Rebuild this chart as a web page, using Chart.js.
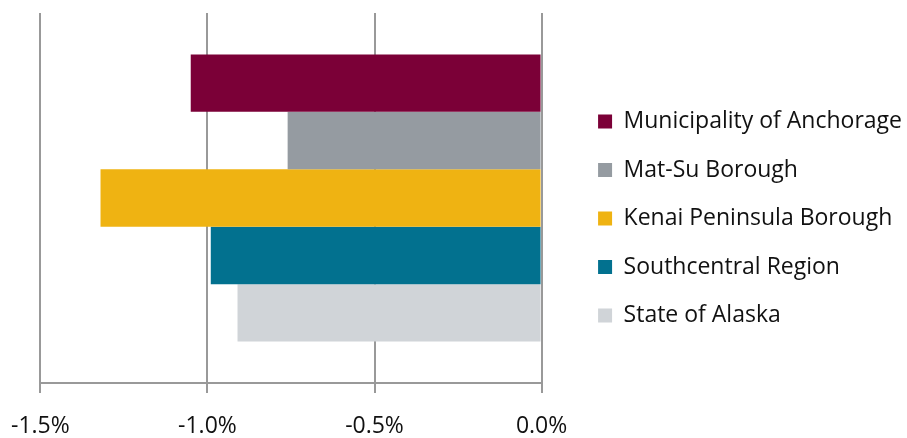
<!DOCTYPE html>
<html>
<head>
<meta charset="utf-8">
<script src="https://cdn.jsdelivr.net/npm/chart.js@4/dist/chart.umd.min.js"></script>
<style>
  html, body { margin: 0; padding: 0; background: #fff; }
  #wrap { width: 907px; height: 438px; }
</style>
</head>
<body>
<div id="wrap"><canvas id="chart"></canvas></div>
<script>
const categories = ['Change']
const regions = ['Municipality of Anchorage', 'Mat-Su Borough', 'Kenai Peninsula Borough', 'Southcentral Region', 'State of Alaska']
const changes = [-1.05, -0.76, -1.32, -0.99, -0.91]
const colors = ['#7b0037', '#959ba1', '#efb312', '#02718f', '#d0d4d8']
const tickValues = [-1.5, -1.0, -0.5, 0.0]

const gridColor = '#999999'
const tickFont = { family: '"Open Sans", sans-serif', size: 23 }
const legendFont = { family: '"Open Sans", sans-serif', size: 23 }

// leave a gap between the plot and the legend
const legendGap = {
  id: 'legendGap',
  beforeLayout: chart => {
    const legend = chart.legend
    if (!legend || legend._gapWrapped) return
    const fit = legend.fit
    legend.fit = function () {
      fit.call(this)
      this.width += 26
    }
    legend._gapWrapped = true
  },
  afterLayout: chart => {
    const legend = chart.legend
    legend.left += 31
    legend.top -= 7
    legend.bottom -= 7
  }
}

const ctx = document.getElementById('chart').getContext('2d')
new Chart(ctx, {
  type: 'bar',
  data: {
    labels: categories,
    datasets: regions.map((name, i) => ({
      label: name,
      data: [changes[i]],
      backgroundColor: colors[i],
      borderWidth: 0,
      barPercentage: 1,
      categoryPercentage: 0.776
    }))
  },
  plugins: [legendGap],
  options: {
    indexAxis: 'y',
    responsive: true,
    maintainAspectRatio: false,
    animation: false,
    layout: { padding: { top: 13, left: 0, right: 0, bottom: 0 } },
    plugins: {
      tooltip: { enabled: false },
      legend: {
        position: 'right',
        labels: {
          color: '#111',
          font: legendFont,
          boxWidth: 14,
          boxHeight: 14,
          padding: 25.5
        }
      }
    },
    scales: {
      x: {
        min: -1.5,
        max: 0,
        afterBuildTicks: scale => { scale.ticks = tickValues.map(v => ({ value: v })) },
        afterFit: scale => {
          scale.height = 55
          scale.paddingLeft -= 9
        },
        grid: {
          color: gridColor,
          lineWidth: 2,
          drawTicks: true,
          tickLength: 10,
          tickColor: gridColor
        },
        border: { color: gridColor, width: 2 },
        ticks: {
          color: '#111',
          font: tickFont,
          padding: 20,
          callback: v => v.toFixed(1) + '%'
        }
      },
      y: {
        display: false
      }
    }
  }
})
</script>
</body>
</html>
